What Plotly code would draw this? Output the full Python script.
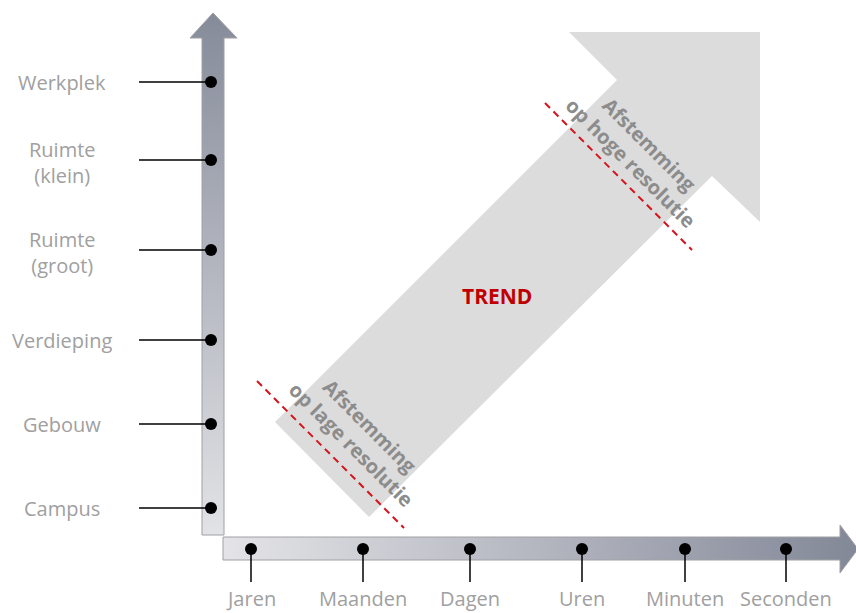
import plotly.graph_objects as go

# categories on the two axes
levels = ["Werkplek", "Ruimte<br>(klein)", "Ruimte<br>(groot)", "Verdieping", "Gebouw", "Campus"]
level_pos = [82, 160, 250, 340, 424, 508]
timescales = ["Jaren", "Maanden", "Dagen", "Uren", "Minuten", "Seconden"]
time_pos = [251, 363, 470, 582, 685, 786]

trend_label = "TREND"
low_label = "Afstemming<br>op lage resolutie"
high_label = "Afstemming<br>op hoge resolutie"

W, H = 856, 613
FONT = "Open Sans"
GREY_TXT = "#a0a0a0"

fig = go.Figure()

# big diagonal trend arrow
trend_x = [275, 617, 569, 760, 760, 712, 369, 275]
trend_y = [422, 80, 32, 32, 222, 176, 517, 422]
fig.add_trace(go.Scatter(x=trend_x, y=trend_y, mode="lines", fill="toself",
                         fillcolor="#dcdcdc", line=dict(width=0), hoverinfo="skip"))

# red dashed resolution lines
for xs, ys in [([257, 404], [381, 528]), ([545, 692], [103, 250])]:
    fig.add_trace(go.Scatter(x=xs, y=ys, mode="lines", hoverinfo="skip",
                             line=dict(color="#d4141c", width=2, dash="7px,5px")))

# vertical axis arrow (gradient dark on top)
vx = [202, 224, 224, 237, 213, 190, 202, 202]
vy = [535, 535, 38, 38, 13, 38, 38, 535]
fig.add_trace(go.Scatter(x=vx, y=vy, mode="lines", fill="toself", hoverinfo="skip",
                         line=dict(color="#a0a0a4", width=1),
                         fillgradient=dict(type="vertical",
                                           colorscale=[[0, "#e2e3e6"], [1, "#868b9a"]])))

# horizontal axis arrow (gradient dark on the right)
hx = [223, 840, 840, 858, 840, 840, 223, 223]
hy = [537, 537, 525, 549, 573, 560, 560, 537]
fig.add_trace(go.Scatter(x=hx, y=hy, mode="lines", fill="toself", hoverinfo="skip",
                         line=dict(color="#a0a0a4", width=1),
                         fillgradient=dict(type="horizontal",
                                           colorscale=[[0, "#e4e4e7"], [1, "#838898"]])))

# tick lines and dots on vertical axis
for y in level_pos:
    fig.add_trace(go.Scatter(x=[139, 211], y=[y, y], mode="lines", hoverinfo="skip",
                             line=dict(color="black", width=1.5)))
fig.add_trace(go.Scatter(x=[211] * len(level_pos), y=level_pos, mode="markers",
                         marker=dict(color="black", size=12), hoverinfo="skip"))

# tick lines and dots on horizontal axis
for x in time_pos:
    fig.add_trace(go.Scatter(x=[x, x], y=[549, 582], mode="lines", hoverinfo="skip",
                             line=dict(color="black", width=1.5)))
fig.add_trace(go.Scatter(x=time_pos, y=[549] * len(time_pos), mode="markers",
                         marker=dict(color="black", size=12), hoverinfo="skip"))

ann = []
for lab, y in zip(levels, level_pos):
    ann.append(dict(x=62, y=y + (2 if "<br>" in lab else 0), text=lab, showarrow=False,
                    font=dict(family=FONT, size=20, color=GREY_TXT), align="center"))
for lab, x in zip(timescales, time_pos):
    ann.append(dict(x=x, y=598, text=lab, showarrow=False,
                    font=dict(family=FONT, size=20, color=GREY_TXT)))
ann.append(dict(x=497, y=296, text="<b>%s</b>" % trend_label, showarrow=False,
                font=dict(family=FONT, size=21, color="#c00000")))
ann.append(dict(x=361, y=435, text="<b>%s</b>" % low_label, showarrow=False, textangle=45,
                font=dict(family=FONT, size=20, color="#8c8c8c"), align="center"))
ann.append(dict(x=640, y=153, text="<b>%s</b>" % high_label, showarrow=False, textangle=45,
                font=dict(family=FONT, size=20, color="#8c8c8c"), align="center"))

fig.update_layout(
    width=W, height=H, margin=dict(l=0, r=0, t=0, b=0),
    paper_bgcolor="white", plot_bgcolor="white", showlegend=False,
    xaxis=dict(range=[0, W], visible=False, fixedrange=True),
    yaxis=dict(range=[H, 0], visible=False, fixedrange=True),
    annotations=ann,
)
fig.write_html("out.html", config={"displayModeBar": False},
               post_script="document.body.style.margin='0';document.body.style.overflow='hidden';")
